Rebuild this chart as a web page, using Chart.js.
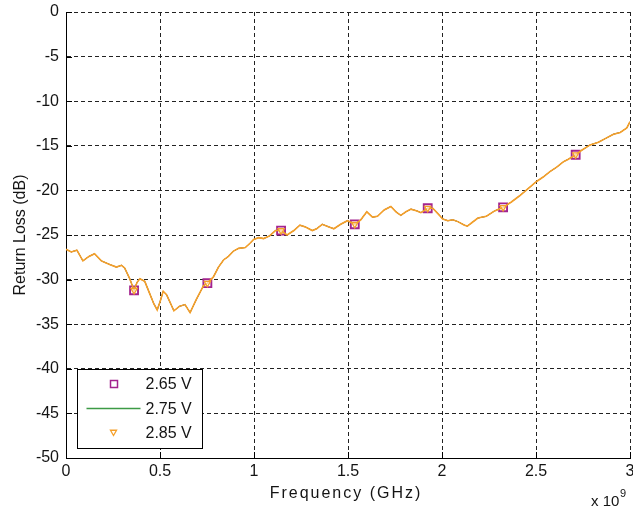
<!DOCTYPE html>
<html>
<head>
<meta charset="utf-8">
<title>Return Loss</title>
<script src="https://cdn.jsdelivr.net/npm/chart.js@4.4.1/dist/chart.umd.min.js"></script>
<style>
  html, body { margin: 0; padding: 0; background: #fff; }
  #wrap { width: 633px; height: 516px; position: relative; }
</style>
</head>
<body>
<div id="wrap"><canvas id="rl"></canvas></div>
<script>
// measured return loss, frequency in GHz
const freqGHz = [
  0.000, 0.028, 0.058, 0.090, 0.122, 0.152, 0.188, 0.232, 0.268, 0.295,
  0.312, 0.339, 0.362, 0.378, 0.393, 0.419, 0.442, 0.467, 0.485, 0.500,
  0.517, 0.535, 0.574, 0.603, 0.633, 0.660, 0.694, 0.731, 0.752, 0.784,
  0.811, 0.838, 0.864, 0.891, 0.918, 0.954, 0.980, 0.998, 1.025, 1.051,
  1.083, 1.114, 1.144, 1.176, 1.212, 1.244, 1.274, 1.310, 1.333, 1.363,
  1.399, 1.425, 1.461, 1.497, 1.536, 1.568, 1.600, 1.630, 1.657, 1.692,
  1.728, 1.755, 1.781, 1.808, 1.835, 1.867, 1.888, 1.924, 1.951, 1.978,
  2.004, 2.031, 2.058, 2.084, 2.120, 2.135, 2.160, 2.191, 2.236, 2.280,
  2.325, 2.369, 2.413, 2.458, 2.503, 2.538, 2.574, 2.610, 2.645, 2.672,
  2.711, 2.743, 2.788, 2.832, 2.868, 2.912, 2.948, 2.983, 3.000
];
// the three bias voltages give the same trace to within a line width
const lossDb = [
  -26.6, -26.9, -26.7, -27.9, -27.4, -27.1, -27.9, -28.3, -28.6, -28.4,
  -28.7, -29.9, -31.2, -30.3, -29.9, -30.2, -31.4, -32.7, -33.4, -32.5,
  -31.3, -31.7, -33.5, -33.0, -32.8, -33.7, -32.2, -30.7, -30.4, -29.7,
  -28.6, -27.8, -27.4, -26.8, -26.5, -26.4, -25.9, -25.5, -25.3, -25.4,
  -25.1, -24.5, -24.5, -25.0, -24.5, -23.9, -24.1, -24.5, -24.3, -23.8,
  -24.1, -24.3, -23.8, -23.4, -23.8, -23.3, -22.4, -23.0, -22.9, -22.2,
  -21.8, -22.4, -22.8, -22.4, -22.1, -22.3, -22.5, -22.0, -22.0, -22.6,
  -23.2, -23.4, -23.3, -23.5, -23.9, -24.0, -23.6, -23.1, -22.9, -22.3,
  -21.9, -21.3, -20.6, -19.8, -19.0, -18.5, -17.9, -17.4, -16.8, -16.5,
  -16.0, -15.5, -14.9, -14.6, -14.2, -13.7, -13.5, -13.0, -12.3
];
// frequencies that carry a marker
const markerGHz = [0.362, 0.752, 1.144, 1.536, 1.924, 2.325, 2.711];

const seriesNames = ['2.65 V', '2.75 V', '2.85 V'];
const seriesColors = ['#a3248f', '#3c9a46', '#f5a02a'];

const FONT = '"Liberation Sans", Arial, Helvetica, sans-serif';
const TEXT = '#141414';

const markerIdx = new Set(markerGHz.map(f => freqGHz.indexOf(f)));
const points = freqGHz.map((f, i) => ({ x: f, y: lossDb[i] }));

function drawSquare(ctx, x, y, half, color) {
  ctx.save();
  ctx.strokeStyle = color;
  ctx.lineWidth = 1.5;
  ctx.strokeRect(x - half, y - half, half * 2, half * 2);
  ctx.restore();
}

function drawDownTriangle(ctx, x, y, r, color) {
  ctx.save();
  ctx.strokeStyle = color;
  ctx.lineWidth = 1.3;
  ctx.beginPath();
  ctx.moveTo(x - r * 0.87, y - r * 0.5);
  ctx.lineTo(x + r * 0.87, y - r * 0.5);
  ctx.lineTo(x, y + r);
  ctx.closePath();
  ctx.stroke();
  ctx.restore();
}

// MATLAB style inward tick marks on the left and bottom axes
const inwardTicks = {
  id: 'inwardTicks',
  afterDatasetsDraw(chart) {
    const { ctx, chartArea: a, scales: { x, y } } = chart;
    ctx.save();
    ctx.strokeStyle = '#000';
    ctx.lineWidth = 1;
    ctx.beginPath();
    x.ticks.forEach(t => {
      const px = Math.round(x.getPixelForValue(t.value)) + 0.5;
      ctx.moveTo(px, a.bottom);
      ctx.lineTo(px, a.bottom - 6);
    });
    y.ticks.forEach(t => {
      const py = Math.round(y.getPixelForValue(t.value)) + 0.5;
      ctx.moveTo(a.left, py);
      ctx.lineTo(a.left + 6, py);
    });
    ctx.stroke();
    ctx.restore();
  }
};

// boxed legend in the lower left of the plot, the x label and the x10^9 exponent
const boxLegend = {
  id: 'boxLegend',
  afterDraw(chart) {
    const { ctx, chartArea: a } = chart;
    const bx = a.left + 11.5, by = 369.5, bw = 125, bh = 79;
    ctx.save();
    ctx.fillStyle = '#fff';
    ctx.fillRect(bx, by, bw, bh);
    ctx.strokeStyle = '#000';
    ctx.lineWidth = 1;
    ctx.strokeRect(bx, by, bw, bh);

    const rows = [by + 14.5, by + 39, by + 63];
    drawSquare(ctx, bx + 36.5, rows[0], 3.5, seriesColors[0]);
    ctx.strokeStyle = seriesColors[1];
    ctx.lineWidth = 1.5;
    ctx.beginPath();
    ctx.moveTo(bx + 9, rows[1]);
    ctx.lineTo(bx + 63, rows[1]);
    ctx.stroke();
    drawDownTriangle(ctx, bx + 36, rows[2] - 0.5, 3.5, seriesColors[2]);

    ctx.fillStyle = TEXT;
    ctx.font = '16px ' + FONT;
    ctx.textBaseline = 'middle';
    ctx.textAlign = 'left';
    seriesNames.forEach((n, i) => ctx.fillText(n, bx + 68, rows[i] + 1));

    // x axis label, spaced out a little
    ctx.textAlign = 'center';
    ctx.letterSpacing = '2px';
    ctx.fillText('Frequency (GHz)', (a.left + a.right) / 2 - 2, 494);
    ctx.letterSpacing = '0px';

    ctx.textAlign = 'left';
    ctx.font = '15px ' + FONT;
    ctx.textBaseline = 'alphabetic';
    ctx.fillText('x 10', 591, 506);
    ctx.font = '11px ' + FONT;
    ctx.fillText('9', 620, 497);
    ctx.restore();
  }
};

function lineSet(i, extra) {
  return Object.assign({
    label: seriesNames[i],
    data: points,
    borderColor: seriesColors[i],
    borderWidth: 1,
    pointRadius: 0,
    pointHoverRadius: 0,
    fill: false,
    tension: 0
  }, extra);
}

new Chart(document.getElementById('rl'), {
  type: 'line',
  data: {
    datasets: [
      lineSet(2, {
        order: 0,
        borderWidth: 1.6,
        pointStyle: 'triangle',
        rotation: 180,
        pointRadius: c => markerIdx.has(c.index) ? 3.6 : 0,
        pointBorderWidth: 1.3,
        pointBorderColor: seriesColors[2],
        pointBackgroundColor: 'rgba(255,255,255,0.6)'
      }),
      lineSet(1, { order: 1 }),
      lineSet(0, {
        order: 2,
        pointStyle: 'rect',
        pointRadius: c => markerIdx.has(c.index) ? 5.6 : 0,
        pointBorderWidth: 1.9,
        pointBorderColor: seriesColors[0],
        pointBackgroundColor: 'transparent'
      })
    ]
  },
  options: {
    responsive: true,
    maintainAspectRatio: false,
    animation: false,
    events: [],
    layout: { padding: { top: 12, right: 3, left: 0, bottom: 0 } },
    plugins: { legend: { display: false }, tooltip: { enabled: false } },
    scales: {
      x: {
        type: 'linear',
        min: 0,
        max: 3,
        ticks: {
          stepSize: 0.5,
          padding: 4,
          maxRotation: 0,
          autoSkip: false,
          color: TEXT,
          font: { family: FONT, size: 16 },
          callback: v => String(Math.round(v * 10) / 10)
        },
        grid: { color: '#222', lineWidth: 1, drawTicks: false },
        border: { display: true, color: '#000', width: 1, dash: [4, 3] },
        title: { display: false },
        afterFit: s => { s.height = 58; s.paddingLeft = 0; s.paddingRight = 0; }
      },
      y: {
        type: 'linear',
        min: -50,
        max: 0,
        ticks: {
          stepSize: 5,
          padding: 7,
          color: TEXT,
          font: { family: FONT, size: 16 }
        },
        grid: { color: '#222', lineWidth: 1, drawTicks: false },
        border: { display: true, color: '#000', width: 1, dash: [4, 3] },
        title: {
          display: true,
          text: 'Return Loss (dB)',
          color: TEXT,
          font: { family: FONT, size: 16 },
          padding: { top: 11, bottom: 0 }
        },
        afterFit: s => { s.width = 66; s.paddingTop = 0; s.paddingBottom = 0; }
      }
    }
  },
  plugins: [inwardTicks, boxLegend]
});
</script>
</body>
</html>
